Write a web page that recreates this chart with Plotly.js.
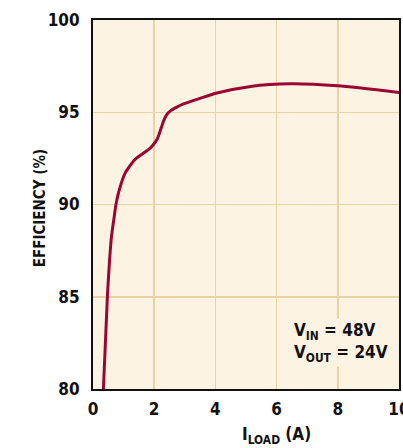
<!DOCTYPE html>
<html>
<head>
<meta charset="utf-8">
<script src="https://cdn.plot.ly/plotly-3.0.1.min.js"></script>
<style>html,body{margin:0;padding:0;background:#fff;}#chart{width:403px;height:448px;}</style>
</head>
<body>
<div id="chart"></div>
<script>
const loadCurrent = [0.34, 0.47, 0.6, 0.69, 0.75, 0.86, 1.05, 1.38, 1.81, 1.95, 2.1, 2.2, 2.3, 2.4, 2.55, 2.74, 2.96, 3.5, 4.05, 5.15, 6.46, 8.0, 10.0];
const efficiency  = [80.0, 85.0, 88.2, 89.3, 90.0, 90.8, 91.7, 92.45, 92.97, 93.2, 93.55, 94.0, 94.5, 94.85, 95.1, 95.28, 95.45, 95.75, 96.04, 96.4, 96.54, 96.43, 96.07];
const xTicks = [0, 2, 4, 6, 8, 10];
const yTicks = [80, 85, 90, 95, 100];
const noteText = "V<sub>IN</sub> = 48V<br>V<sub>OUT</sub> = 24V";
const xTitle = "I<sub>LOAD</sub> (A)";
const yTitle = "EFFICIENCY (%)";

const font = "'Liberation Sans Narrow', 'DejaVu Sans Condensed', 'Liberation Sans', sans-serif";
const bg = '#FDF3E3';
const ink = '#111';

Plotly.newPlot('chart', [{
  x: loadCurrent, y: efficiency, type: 'scatter', mode: 'lines',
  line: {color: '#9A0632', width: 3, shape: 'spline', smoothing: 0.6},
  hoverinfo: 'skip'
}], {
  width: 403, height: 448,
  margin: {l: 93, r: 4, t: 20, b: 59},
  paper_bgcolor: '#ffffff', plot_bgcolor: bg,
  showlegend: false,
  font: {family: font, color: ink, size: 17},
  xaxis: {
    range: [0, 10], tickvals: xTicks, ticktext: xTicks.map(String),
    showgrid: true, gridcolor: '#EBD2A6', gridwidth: 1.5,
    showline: true, linecolor: ink, linewidth: 2, mirror: true,
    zeroline: false, ticks: '', ticklen: 0, ticklabelstandoff: 4,
    ticklabeloverflow: 'allow',
    tickfont: {family: font, size: 17, color: ink, weight: 'bold'}
  },
  yaxis: {
    range: [80, 100], tickvals: yTicks, ticktext: yTicks.map(String),
    showgrid: true, gridcolor: '#EBD2A6', gridwidth: 1.5,
    showline: true, linecolor: ink, linewidth: 2, mirror: true,
    zeroline: false, ticks: '', ticklen: 0, ticklabelstandoff: 8,
    tickfont: {family: font, size: 17, color: ink, weight: 'bold'}
  },
  annotations: [{
    x: 6.5, y: 82.5, xref: 'x', yref: 'y', xanchor: 'left', yanchor: 'middle',
    text: noteText, showarrow: false, align: 'left', bgcolor: bg,
    font: {family: font, size: 17, color: ink, weight: 'bold'}
  }, {
    x: 0.6, y: -0.127, xref: 'paper', yref: 'paper', xanchor: 'center', yanchor: 'middle',
    text: xTitle, showarrow: false,
    font: {family: font, size: 17, color: ink, weight: 'bold'}
  }, {
    x: -0.173, y: 0.49, xref: 'paper', yref: 'paper', xanchor: 'center', yanchor: 'middle',
    text: yTitle, showarrow: false, textangle: -90,
    font: {family: font, size: 15, color: ink, weight: 'bold'}
  }]
}, {staticPlot: true});
</script>
</body>
</html>
